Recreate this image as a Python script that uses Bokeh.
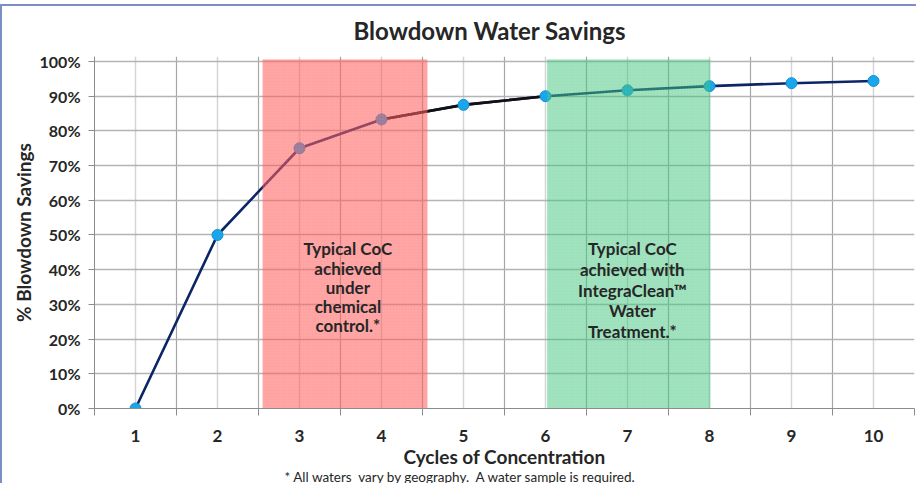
from bokeh.plotting import figure
from bokeh.models import Range1d, FixedTicker, PrintfTickFormatter, ColumnDataSource, Title
from bokeh.core.properties import value
from bokeh.embed import file_html
from bokeh.resources import INLINE

# ---- data ----
cycles = [1, 2, 3, 4, 5, 6, 7, 8, 9, 10]
savings = [0.0, 50.0, 75.0, 83.3, 87.5, 90.0, 91.7, 92.9, 93.75, 94.4]
y_ticks = [0, 10, 20, 30, 40, 50, 60, 70, 80, 90, 100]
chem_band = [2.55, 4.56]
integra_band = [6.02, 8.01]
chem_text = "Typical CoC\nachieved\nunder\nchemical\ncontrol.*"
integra_text = "Typical CoC\nachieved with\nIntegraClean\u2122\nWater\nTreatment.*"
title_text = "Blowdown Water Savings"
x_title = "Cycles of Concentration"
y_title = "% Blowdown Savings"
footnote = "* All waters \u00a0vary by geography. \u00a0A water sample is required."

FONT = "Lato"
TXT = "#262626"

Y_END = 101.44
p = figure(width=916, height=483, output_backend="svg", toolbar_location=None,
           x_range=Range1d(cycles[0] - 0.5, cycles[-1] + 0.5),
           y_range=Range1d(0, Y_END),
           min_border_left=94, min_border_right=2, min_border_top=56,
           min_border_bottom=75)
p.outline_line_color = None
p.background_fill_color = "white"
p.border_fill_color = None

# title
p.title.text = title_text
p.title.text_font = FONT
p.title.text_font_size = "24px"
p.title.text_font_style = "bold"
p.title.text_color = TXT
p.title.align = "left"
p.title.offset = 259
p.title.standoff = 24

# axes
bounds = [c - 0.5 for c in cycles] + [cycles[-1] + 0.5]
p.xaxis.ticker = FixedTicker(ticks=cycles, minor_ticks=bounds)
p.xaxis.major_tick_out = 0
p.xaxis.major_tick_in = 0
p.xaxis.minor_tick_out = 7
p.xaxis.minor_tick_in = 0
p.xaxis.minor_tick_line_color = "#8c8c8c"
p.xaxis.axis_line_color = "#8c8c8c"
p.xaxis.major_label_standoff = 14
p.xaxis.major_label_text_font = FONT
p.xaxis.major_label_text_font_size = "17px"
p.xaxis.major_label_text_font_style = "bold"
p.xaxis.major_label_text_color = TXT
p.xaxis.axis_label = x_title
p.xaxis.axis_label_text_font = FONT
p.xaxis.axis_label_text_font_size = "19px"
p.xaxis.axis_label_text_font_style = "bold"
p.xaxis.axis_label_text_color = TXT
p.xaxis.axis_label_standoff = 0

p.yaxis.ticker = FixedTicker(ticks=y_ticks)
p.yaxis.formatter = PrintfTickFormatter(format="%d%%")
p.yaxis.major_tick_out = 6
p.yaxis.major_tick_in = 0
p.yaxis.minor_tick_line_color = None
p.yaxis.major_tick_line_color = "#8c8c8c"
p.yaxis.axis_line_color = "#8c8c8c"
p.yaxis.major_label_standoff = 8
p.yaxis.major_label_text_font = FONT
p.yaxis.major_label_text_font_size = "16px"
p.yaxis.major_label_text_font_style = "bold"
p.yaxis.major_label_text_color = TXT
p.yaxis.axis_label = y_title
p.yaxis.axis_label_text_font = FONT
p.yaxis.axis_label_text_font_size = "19px"
p.yaxis.axis_label_text_font_style = "bold"
p.yaxis.axis_label_text_color = TXT
p.yaxis.axis_label_standoff = 2

# footnote
p.add_layout(Title(text=footnote, align="left", offset=190, text_font=FONT,
                   text_font_size="13.5px", text_font_style="normal",
                   text_color=TXT, standoff=-8), "below")

# grids
p.xgrid.grid_line_color = "#d4d4d4"
p.xgrid.grid_line_width = 1.5
p.xgrid.minor_grid_line_color = "#a6a6a6"
p.xgrid.minor_grid_line_width = 1.2
p.ygrid.grid_line_color = "#b4b4b4"
p.ygrid.grid_line_width = 1.6

# series
src = ColumnDataSource(dict(x=cycles, y=savings))
p.line("x", "y", source=src, line_color="#0b2566", line_width=2.6)
p.line(cycles[3:6], savings[3:6], line_color="#111111", line_width=2.6)
p.scatter("x", "y", source=src, size=11, fill_color="#1aa6ec",
          line_color="#1590d0", line_width=1)

# bands
top = y_ticks[-1] + 0.6
p.quad(left=[chem_band[0]], right=[chem_band[1]], bottom=[-1], top=[top],
       fill_color="#ff5a5a", fill_alpha=0.56, line_color=None,
       hatch_pattern="dot", hatch_color="#ffffff", hatch_alpha=0.12, hatch_scale=3)
p.quad(left=[integra_band[0]], right=[integra_band[1]], bottom=[-1], top=[top],
       fill_color="#3cc27a", fill_alpha=0.5, line_color=None,
       hatch_pattern="dot", hatch_color="#ffffff", hatch_alpha=0.12, hatch_scale=3)

# band texts
band_text_y = 49.0
for tx, tt, lh in ((3.59, chem_text, 0.91), (7.06, integra_text, 0.98)):
    p.text(x=[tx], y=[band_text_y], text=[tt],
           text_font=value(FONT), text_font_size="17px", text_font_style="bold",
           text_color=TXT, text_align="center", text_baseline="top",
           text_line_height=lh)

p.styles = {"box-shadow": "inset 0 4px 0 0 #ffffff, inset 2px 0 0 0 #7d8ec6, "
                          "inset 0 6px 0 0 #7d8ec6"}

open("out.html", "w").write(file_html(p, INLINE))
